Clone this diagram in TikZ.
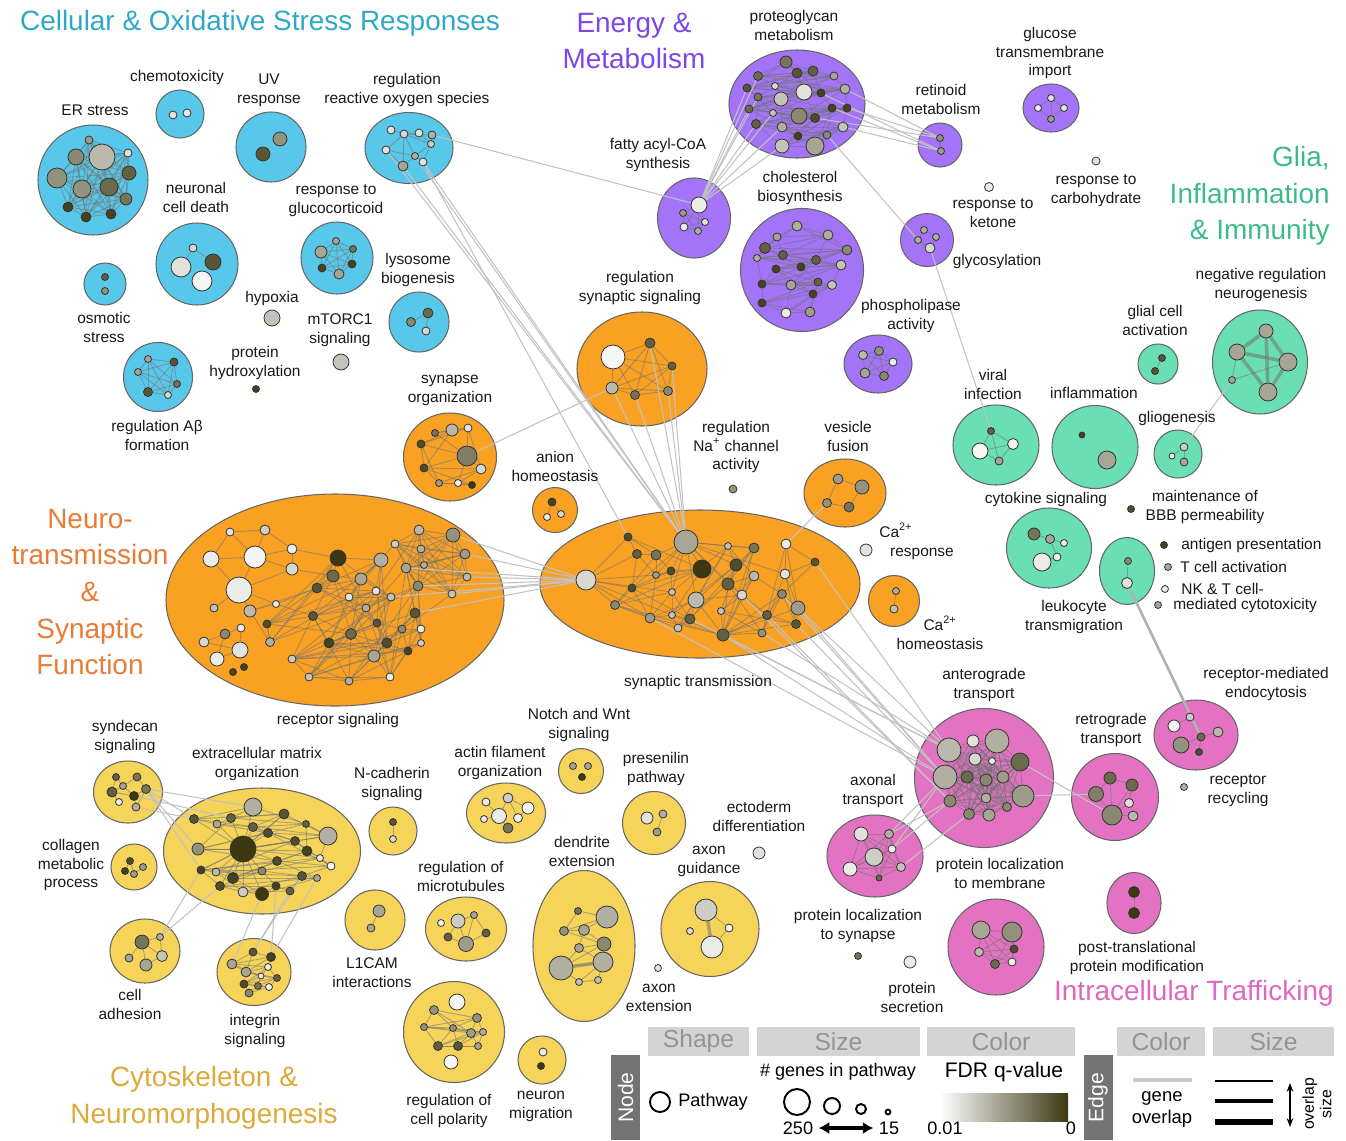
\documentclass[tikz,border=0pt]{standalone}
\usepackage{fontspec}
\setmainfont{Liberation Sans}
\usepackage{xcolor}
\usepackage{tikz}
\usetikzlibrary{shapes.geometric}
\usetikzlibrary{arrows.meta}
\usetikzlibrary{positioning}

\definecolor{cyanC}{HTML}{58C8EA}
\definecolor{purpC}{HTML}{A374F7}
\definecolor{oranC}{HTML}{F9A123}
\definecolor{grnC}{HTML}{69DFB3}
\definecolor{pinkC}{HTML}{E372C2}
\definecolor{yelC}{HTML}{F6D359}
\definecolor{cyanT}{HTML}{2FA8C8}
\definecolor{purpT}{HTML}{7D46E6}
\definecolor{oranT}{HTML}{E87B36}
\definecolor{grnT}{HTML}{3DBA8A}
\definecolor{pinkT}{HTML}{E067BE}
\definecolor{yelT}{HTML}{DDA93A}
\definecolor{fdr}{HTML}{3B3812}

\newcommand{\lblsize}{\fontsize{8.8}{10.8}\selectfont}
\newcommand{\ttlsize}{\fontsize{15.9}{20.9}\selectfont}
\newcommand{\legsize}{\fontsize{10.3}{12.5}\selectfont}
\newcommand{\hdrsize}{\fontsize{14}{16}\selectfont}

\pgfdeclarelayer{back}
\pgfdeclarelayer{mid}
\pgfsetlayers{back,mid,main}

\tikzstyle{lbl}=[align=center, inner sep=0pt, font=\lblsize, text=black!90]
\tikzstyle{ttl}=[align=center, inner sep=0pt, font=\ttlsize]
\tikzstyle{link}=[draw=black!24, line width=0.6pt]
\tikzstyle{inlink}=[draw=black!55, opacity=0.55, line width=0.5pt]
\tikzstyle{thkin}=[draw=black!55, opacity=0.55, line width=2pt]
\tikzstyle{hdr}=[fill=black!17, text=black!42, font=\hdrsize, inner sep=0pt, minimum height=29*0.02cm]
\tikzstyle{side}=[fill=black!55, text=white, font=\fontsize{12}{14}\selectfont, inner sep=0pt, rotate=90, minimum width=85*0.02cm, minimum height=29*0.02cm]
\tikzstyle{leg}=[inner sep=0pt, font=\legsize, align=center]
\tikzset{
  clu/.style={circle, draw=black!60, line width=0.6pt, inner sep=0pt, minimum size=#1*0.02cm},
  elu/.style 2 args={ellipse, draw=black!60, line width=0.6pt, inner sep=0pt, minimum width=#1*0.02cm, minimum height=#2*0.02cm},
  gn/.style={circle, draw=black!80, line width=0.45pt, inner sep=0pt, minimum size=#1*0.04cm},
}

% gene nodes of one pathway cluster: x/y/radius/shade
\newcommand{\genelist}[2]{\foreach \gx/\gy/\gr/\gf [count=\gi] in {#2}{\node[gn=\gr, fill=fdr!\gf!white] (#1\gi) at (\gx,\gy) {};}}
\newcommand{\inlinks}[2]{\foreach \la/\lb in {#2}{\draw[inlink] (#1\la) -- (#1\lb);}}
\newcommand{\inchain}[4]{\foreach \la in {#2,...,#3}{\foreach \lk in {#4}{\pgfmathtruncatemacro{\lb}{\la+\lk}\ifnum\lb>#3\relax\else\draw[inlink] (#1\la) -- (#1\lb);\fi}}}
\newcommand{\inmesh}[2]{\inchain{#1}{1}{#2}{1,...,#2}}
\newcommand{\crosslinks}[1]{\foreach \la/\lb in {#1}{\draw[link] (\la) -- (\lb);}}

\begin{document}
\begin{tikzpicture}[x=0.02cm, y=-0.02cm]
\useasboundingbox (0,0) rectangle (1346,1140);

% pathway clusters
\begin{pgfonlayer}{back}
\node[clu=110, fill=cyanC] (erC) at (93,180) {};
\node[clu=48, fill=cyanC] (chemoC) at (180,114) {};
\node[clu=70, fill=cyanC] (uvC) at (271,147) {};
\node[elu={88}{71}, fill=cyanC] (rosC) at (409,148) {};
\node[clu=82, fill=cyanC] (ncdC) at (197,264) {};
\node[clu=72, fill=cyanC] (gcC) at (337,258) {};
\node[clu=42, fill=cyanC] (osmC) at (105,284) {};
\node[clu=60, fill=cyanC] (lysC) at (419,322) {};
\node[clu=69, fill=cyanC] (abC) at (158,377) {};

\node[elu={136}{108}, fill=purpC] (pgC) at (797,104) {};
\node[clu=44, fill=purpC] (retC) at (940,145) {};
\node[elu={56}{48}, fill=purpC] (gluC) at (1051,108) {};
\node[clu=53, fill=purpC] (glyC) at (927,240) {};
\node[elu={73}{80}, fill=purpC] (faC) at (694,218) {};
\node[clu=123, fill=purpC] (cholC) at (802,270) {};
\node[elu={68}{58}, fill=purpC] (plC) at (878,364) {};

\node[elu={130}{114}, fill=oranC] (rssC) at (642,369) {};
\node[elu={93}{88}, fill=oranC] (soC) at (450,457) {};
\node[clu=45, fill=oranC] (anC) at (555,510) {};
\node[elu={82}{68}, fill=oranC] (vfC) at (845,493) {};
\node[clu=51, fill=oranC] (cahC) at (894,601) {};
\node[elu={338}{212}, fill=oranC] (rsC) at (335,600) {};
\node[elu={320}{148}, fill=oranC] (stC) at (700,584) {};

\node[elu={95}{104}, fill=grnC] (nrnC) at (1260,362) {};
\node[clu=40, fill=grnC] (gcaC) at (1158,364) {};
\node[elu={86}{80}, fill=grnC] (viC) at (996,445) {};
\node[elu={86}{83}, fill=grnC] (infC) at (1095,447) {};
\node[clu=48, fill=grnC] (gliC) at (1178,454) {};
\node[elu={85}{80}, fill=grnC] (cytC) at (1049,548) {};
\node[elu={55}{67}, fill=grnC] (leuC) at (1127,571) {};

\node[clu=139, fill=pinkC] (antC) at (984,778) {};
\node[clu=87, fill=pinkC] (rtgC) at (1115,797) {};
\node[elu={84}{70}, fill=pinkC] (rmeC) at (1196,735) {};
\node[elu={96}{82}, fill=pinkC] (axC) at (875,856) {};
\node[clu=96, fill=pinkC] (plmC) at (996,947) {};
\node[elu={54}{61}, fill=pinkC] (ptmC) at (1134,903) {};

\node[elu={69}{62}, fill=yelC] (synC) at (128,792) {};
\node[elu={197}{126}, fill=yelC] (ecmC) at (262,851) {};
\node[clu=46, fill=yelC] (colC) at (134,867) {};
\node[elu={70}{64}, fill=yelC] (caC) at (145,951) {};
\node[elu={74}{67}, fill=yelC] (intC) at (254,972) {};
\node[clu=48, fill=yelC] (ncadC) at (393,831) {};
\node[clu=60, fill=yelC] (l1C) at (375,920) {};
\node[clu=45, fill=yelC] (nwC) at (581,771) {};
\node[elu={79}{60}, fill=yelC] (actC) at (506,813) {};
\node[clu=63, fill=yelC] (preC) at (654,823) {};
\node[elu={81}{64}, fill=yelC] (mtC) at (466,929) {};
\node[elu={102}{151}, fill=yelC] (deC) at (584,946) {};
\node[elu={98}{95}, fill=yelC] (agC) at (710,929) {};
\node[clu=101, fill=yelC] (polC) at (454,1032) {};
\node[clu=48, fill=yelC] (nmC) at (542,1060) {};
\end{pgfonlayer}

% genes
\genelist{er}{89/140/4/50, 102/157/13/35, 76/157/8/60, 128/153/4/15, 57/178/10/55, 82/189/9/55, 109/187/9/75, 129/173/7/80, 126/199/6/70, 68/207/5/95, 86/217/5/95, 111/214/5/95}
\genelist{chemo}{173/115/4/15, 187/113/4/10}
\genelist{uv}{280/139/7/55, 263/154/7/85}
\genelist{ros}{391/130/4/15, 404/134/4/20, 419/133/4/15, 432/135/4/40, 431/144/3.5/25, 386/150/4/15, 415/156/3.5/40, 423/162/4/15, 403/166/5/45}
\genelist{ncd}{193/248/4/20, 181/267/10/15, 213/262/8/85, 202/281/10/5}
\genelist{gc}{321/252/6/45, 336/241/3.5/45, 353/249/3.5/70, 322/268/4/95, 352/264/4/95, 339/274/5/45}
\genelist{osm}{105/277/3.5/80, 105/291/3.5/55}
\genelist{lys}{411/322/4.5/60, 428/313/5/75, 426/331/4/20}
\genelist{hyp}{272/318/8/30}
\genelist{mtor}{341/362/8/30}
\genelist{phx}{256/389/3.5/95}
\genelist{ab}{148/359/3.5/45, 174/362/4/85, 138/372/3.5/45, 177/384/3.5/70, 148/392/4.5/85, 168/395/3.5/20}

\genelist{pg}{786/62/6/70, 758/76/4.5/75, 797/73/5/85, 813/71/5/80, 834/76/4/45, 747/88/4/85, 775/86/3.5/20, 804/92/8/15, 821/93/4/95, 845/89/5/40, 758/97/4/70, 781/99/7/30, 749/109/4/75, 773/113/3.5/30, 799/116/8/60, 815/118/4.5/90, 832/108/4/95, 847/108/4/95, 756/124/4.5/80, 782/127/5/40, 798/136/4/95, 827/135/4/60, 843/127/5/30, 782/146/7/30, 815/146/9/45}
\genelist{ret}{940/138/3.5/55, 941/151/3.5/50}
\genelist{glu}{1051/98/3.5/15, 1038/108/3.5/10, 1064/108/3.5/15, 1051/119/3.5/50}
\genelist{carb}{1096/161/4/15}
\genelist{ket}{989/187/4.5/10}
\genelist{gly}{924/230/3.5/40, 918/240/3.5/40, 936/237/3.5/40, 930/248/5/20}
\genelist{fa}{699/205/8/10, 683/213/3.5/50, 684/227/4/10, 698/231/3.5/40, 705/222/3.5/15}
\genelist{chol}{797/226/5/40, 777/237/4/45, 828/235/5/40, 765/248/5.5/80, 783/255/4.5/80, 847/250/5/60, 757/258/3.5/40, 816/260/4.5/80, 801/267/4/95, 841/265/5/30, 776/269/4/95, 762/284/4/95, 791/285/5/45, 818/282/4/80, 832/285/4.5/30, 813/294/4/95, 762/303/4/95, 786/313/5/10, 810/312/5/50}
\genelist{pl}{863/355/4.5/35, 879/351/4.5/55, 893/362/4/10, 865/373/5/45, 884/376/4.5/60}

\genelist{rss}{613/357/12/5, 650/343/5/80, 672/366/4/80, 612/388/6/35, 635/395/4.5/70, 668/391/4.5/60}
\genelist{so}{435/433/3.5/70, 452/430/6/35, 468/428/4/15, 421/444/4/90, 467/456/10/65, 424/468/4/90, 481/469/5/20, 439/483/3.5/50, 458/483/3.5/5, 472/485/3.5/100}
\genelist{an}{552/502/4/95, 547/517/3.5/10, 561/514/3.5/20}
\genelist{na}{733/489/4/55}
\genelist{vf}{838/479/5/50, 862/487/7/55, 827/503/4.5/55, 849/507/5/70}
\genelist{car}{866/550/6/15}
\genelist{cah}{896/591/3.5/40, 894/609/4/30}
\genelist{rs}{230/532/4/15, 265/530/5/25, 211/559/8/10, 255/557/11/5, 292/549/5/10, 292/569/6/20, 239/590/13/10, 214/608/4/30, 250/611/6/35, 276/604/3.5/10, 241/628/4/10, 225/634/5/60, 204/642/5/20, 240/650/8/15, 217/659/7/10, 233/672/3.5/95, 244/667/3.5/95, 270/642/4.5/40, 267/624/4/90, 338/558/8/100, 333/576/6/75, 317/588/5/85, 361/579/6/45, 381/560/7/40, 349/597/4/15, 376/591/4/15, 391/597/4/30, 313/616/4.5/85, 366/608/4/40, 351/634/5.5/75, 377/623/4/85, 329/643/5/95, 387/643/5/90, 374/656/6/45, 292/659/4/25, 309/677/4/30, 349/681/4/40, 390/677/4/10, 408/651/4/95, 402/629/4/60, 415/613/5/85, 421/629/4/10, 421/643/3.5/25, 418/586/5/60, 406/568/5/45, 395/544/4/25, 419/530/5/35, 421/549/4/40, 424/565/3.5/40, 453/535/7/55, 465/554/5/50, 467/577/4/35, 452/594/4/30}
\genelist{st}{586/580/10/20, 686/542/12/45, 628/537/4/90, 637/554/4.5/80, 656/555/5/70, 656/575/3.5/50, 671/571/4/90, 702/569/9/100, 632/588/4/90, 615/605/4.5/60, 650/618/5/50, 672/592/3.5/30, 672/615/3.5/30, 690/619/5/80, 678/628/4/30, 696/600/8/35, 728/546/3.5/30, 736/565/6/90, 754/548/5/70, 728/584/6/80, 742/595/5/20, 754/576/5/35, 721/611/3.5/30, 723/635/6/80, 762/633/4/55, 767/615/4.5/80, 782/594/4.5/60, 796/624/4.5/85, 798/608/7/50, 785/574/5/15, 786/544/5/10, 815/562/4/85}

\genelist{nrn}{1266/331/7/45, 1237/352/8/45, 1288/362/9/45, 1268/392/9/45, 1232/380/3.5/45}
\genelist{gca}{1162/358/3.5/85, 1155/371/3.5/85}
\genelist{vi}{991/431/3.5/80, 980/451/8/5, 1013/444/5.5/5, 999/461/4/45}
\genelist{inf}{1082/435/3/95, 1107/460/9/45}
\genelist{gli}{1184/447/4/25, 1172/456/3/10, 1184/462/4/45}
\genelist{cyt}{1034/534/6/70, 1050/539/4.5/45, 1064/543/3.5/10, 1042/562/9/10, 1057/557/4/10}
\genelist{bbb}{1131/509/3.5/90}
\genelist{leu}{1128/561/3.5/60, 1127/583/5.5/15}
\genelist{agp}{1164/545/3.5/95}
\genelist{tca}{1168/567/3.5/45}
\genelist{nkt}{1165/589/3.5/10}
\genelist{mcy}{1158/605/3.5/45}

\genelist{ant}{949/750/12/35, 973/741/6/15, 997/741/12/40, 975/759/6/20, 992/761/3.5/10, 1020/762/9/75, 945/777/12/40, 967/777/6/75, 986/780/6/60, 1003/777/6/50, 1023/796/11/50, 950/801/6/60, 986/798/5/40, 969/814/5.5/60, 989/815/6/45, 1007/807/4.5/60}
\genelist{rtg}{1110/778/6/75, 1132/785/6/75, 1096/794/7.5/65, 1129/803/4.5/15, 1112/815/10/60, 1133/816/5/35}
\genelist{rme}{1174/726/6/5, 1190/717/4/25, 1181/745/8/55, 1201/737/4/75, 1218/732/5/35, 1199/752/3.5/90}
\genelist{rrc}{1184/787/3.5/40}
\genelist{ax}{861/834/7/15, 889/834/4.5/40, 874/857/9/25, 892/849/4/5, 850/869/7/10, 901/867/4.5/30, 879/878/3/75}
\genelist{plm}{981/930/9/45, 1012/932/10/55, 979/952/4.5/35, 1014/949/4/90, 995/964/4.5/75, 1012/962/4/5}
\genelist{ptm}{1134/892/5.5/100, 1134/913/5.5/100}
\genelist{pls}{858/956/3.5/70}
\genelist{psc}{910/962/6/10}

\genelist{syn}{116/777/3.5/80, 137/777/4/70, 123/786/3.5/45, 112/792/5/80, 134/796/4.5/100, 146/789/4.5/70, 119/802/3.5/10, 136/807/4/40}
\genelist{ecm}{253/807/9/40, 194/819/4.5/85, 217/824/4/45, 231/818/4.5/80, 284/814/5/85, 253/827/4.5/80, 306/824/3.5/80, 328/836/9/40, 268/833/4.5/90, 198/849/6/55, 243/849/13/100, 295/841/4.5/90, 307/851/5/95, 320/858/3.5/10, 331/866/4/5, 277/861/4.5/90, 201/870/4/95, 216/872/4/35, 233/878/5.5/95, 262/871/4/60, 302/876/4.5/85, 317/878/3.5/45, 220/886/4.5/90, 243/892/5/25, 262/894/6.5/100, 276/886/4/95, 290/891/4/80}
\genelist{col}{130/861/3.5/90, 143/867/3.5/50, 125/871/3.5/95, 134/874/3.5/50}
\genelist{ca}{142/942/7/70, 160/937/3.5/40, 129/958/4/45, 146/965/6/45, 162/956/5.5/30}
\genelist{int}{253/952/4/85, 271/957/4.5/95, 232/964/5/45, 246/972/5/45, 268/967/3.5/10, 261/976/3/10, 277/978/3.5/80, 244/984/4/90, 258/986/3.5/70, 269/987/3.5/5, 249/993/4/60}
\genelist{ncad}{393/822/3.5/85, 393/839/3.5/20}
\genelist{lone}{379/911/6/45, 371/928/4/45}
\genelist{nw}{573/766/3.5/45, 588/766/3.5/45, 582/777/3.5/100}
\genelist{act}{486/802/4/10, 508/798/5/25, 528/808/6/5, 499/816/7.5/10, 518/818/4.5/5, 484/819/3.5/10, 508/828/5/70}
\genelist{pre}{647/818/6/15, 663/814/4/40, 657/832/4/50}
\genelist{ecto}{759/853/6/15}
\genelist{mt}{441/923/3.5/5, 458/921/7/25, 474/915/3.5/45, 448/937/4/80, 466/944/7.5/50, 486/933/4/80}
\genelist{de}{578/911/3.5/70, 607/917/11/40, 564/931/4.5/55, 584/930/5.5/45, 604/944/7/60, 579/948/4.5/45, 561/968/12/40, 603/962/10/40, 579/982/3.5/30, 598/980/3.5/30}
\genelist{ag}{706/910/11/25, 690/931/3.5/20, 729/928/4/5, 712/947/11/10}
\genelist{axe}{658/968/3.5/15}
\genelist{pol}{457/1002/8/5, 434/1010/4.5/55, 477/1018/4.5/55, 424/1027/3.5/55, 453/1028/3.5/55, 471/1033/4.5/50, 483/1032/3.5/40, 438/1046/4.5/80, 458/1046/4.5/85, 478/1046/3.5/45, 451/1062/7/5}
\genelist{nm}{543/1052/4/10, 541/1066/3.5/100}

% gene overlap within and between clusters
\begin{pgfonlayer}{mid}
\inmesh{er}{12}
\inlinks{ros}{1/2, 2/3, 2/4, 2/5, 2/6, 2/7, 2/9, 3/5, 4/5, 5/7, 5/8, 6/7, 7/8, 7/9, 6/9}
\inlinks{ncd}{1/2, 1/3}
\inmesh{gc}{6}
\inlinks{lys}{1/2, 2/3}
\inmesh{ab}{6}
\inchain{pg}{1}{25}{1,2,3,5,8}
\inlinks{ret}{1/2}
\inlinks{glu}{1/2, 1/3, 1/4, 2/4, 3/4}
\inlinks{gly}{1/2, 1/3, 2/4, 3/4}
\inmesh{fa}{5}
\inchain{chol}{1}{19}{1,2,3,5}
\inmesh{pl}{5}
\inmesh{rss}{6}
\inchain{so}{1}{10}{1,2,4}
\inlinks{an}{1/2, 1/3}
\inlinks{vf}{1/2, 1/3, 2/4, 3/4}
\inlinks{cah}{1/2}
\inlinks{rs}{1/2, 1/3, 1/4, 2/4, 2/5, 3/4, 3/7, 4/5, 4/6, 4/7, 5/6, 6/7, 7/8, 7/9, 7/10, 9/10, 11/12, 12/13, 13/14, 12/15, 14/15, 11/14, 9/18, 18/19, 10/22, 10/28, 9/22, 19/30, 23/46, 26/47, 27/44, 45/51, 40/53, 6/21, 5/20}
\inchain{rs}{18}{45}{1,2,4,7,9}
\inchain{rs}{44}{53}{1,2,3,4,5,6,7,8,9}
\inchain{st}{3}{32}{1,2,5}
\inlinks{st}{1/3, 1/4, 1/9, 1/10, 1/11, 1/6, 1/12, 1/13, 2/5, 2/6, 2/7, 2/8, 2/9, 2/12, 2/16, 2/17, 2/18, 2/19, 2/20, 2/21, 2/30, 24/10, 24/11, 24/13, 24/16, 24/20, 24/21, 24/26, 24/27, 24/28}
\foreach \la/\lb in {1/2, 1/3, 1/4, 2/3, 2/4, 3/4}{\draw[thkin] (nrn\la) -- (nrn\lb);}
\inlinks{nrn}{5/2, 5/3}
\inlinks{gca}{1/2}
\inmesh{vi}{4}
\inlinks{gli}{1/2, 1/3}
\inlinks{cyt}{1/2, 2/3, 4/5, 2/5}
\inlinks{leu}{1/2}
\inmesh{ant}{16}
\inlinks{rtg}{1/2, 1/3, 2/4, 3/5, 4/5, 5/6, 2/5, 1/5}
\inlinks{rme}{1/2, 2/4, 3/4, 4/5, 4/6}
\inmesh{ax}{7}
\inmesh{plm}{6}
\inlinks{ptm}{1/2}
\inlinks{syn}{1/3, 2/3, 3/4, 3/5, 4/5, 5/6, 4/7, 5/8, 2/6, 1/4, 6/8}
\inchain{ecm}{1}{27}{1,3,6}
\inlinks{ecm}{11/1, 11/2, 11/3, 11/4, 11/5, 11/6, 11/8, 11/9, 11/10, 11/12, 11/16, 11/17, 11/18, 11/19, 11/20, 11/23, 11/24, 11/25}
\inlinks{col}{1/3, 1/4, 2/4, 3/4}
\inlinks{ca}{1/2, 1/3, 1/4, 2/5, 4/5, 1/5}
\inchain{int}{1}{11}{1,2,3}
\inlinks{ncad}{1/2}
\inlinks{lone}{1/2}
\inlinks{act}{1/4, 2/3, 2/4, 3/5, 2/5, 4/7, 4/6}
\inlinks{pre}{2/3}
\inlinks{mt}{2/3, 2/5, 3/6, 5/6, 4/5, 2/4, 3/5}
\inchain{de}{1}{10}{1,2}
\draw[thkin] (de7) -- (de8);
\inlinks{ag}{1/3, 3/4}
\draw[thkin] (ag1) -- (ag4);
\inchain{pol}{2}{10}{1,2,3,4}

\crosslinks{ros6/st2, ros7/st2, ros8/st2, ros9/st2, ros8/st3, ros4/fa1}
\crosslinks{rss2/st2, rss3/st2, rss4/st2, rss5/st2, rss6/st2, so5/rss4}
\crosslinks{pg6/fa1, pg11/fa1, pg13/fa1, pg19/fa1, pg24/fa1, pg14/fa1, pg20/fa1, pg2/fa1}
\crosslinks{pg10/ret1, pg18/ret1, pg17/ret2, pg23/ret2, pg16/ret1, pg9/ret2, pg22/gly2, gly4/vi1, gli1/nrn5}
\crosslinks{rs44/st1, rs45/st1, rs50/st1, rs51/st1, rs52/st1, rs53/st1, rs41/st1, rs27/st1}
\crosslinks{st24/ant7, st24/ant1, st25/ant1, st28/ant7, st29/ant1, st29/ant7, st26/ant12, st32/ant1, st27/ant7, st11/ant7, st14/ant1, st21/ant12, st31/vf3}
\crosslinks{ant7/ax2, ant12/ax2, ant12/ax4, ant7/ax4, ant14/ax6, ant11/rtg3, ant6/rtg5}
\crosslinks{syn6/ecm1, syn6/ecm2, syn6/ecm10, syn8/ecm2, syn6/ecm17, syn5/ecm4, ca2/ecm17, ca2/ecm23}
\crosslinks{int1/ecm27, int2/ecm26, int1/ecm21, int3/ecm25, int2/ecm22}
\draw[link, draw=black!30, line width=1.5pt] (leu2) -- (rme4);
\end{pgfonlayer}

% group titles
\node[ttl, text=cyanT] (cosT) at (260,23) {Cellular \& Oxidative Stress Responses};
\node[ttl, text=purpT] (emT) at (634,41) {Energy \&\\Metabolism};
\node[ttl, text=grnT, align=right, anchor=east] (giiT) at (1330,196) {Glia,\\Inflammation\\\& Immunity};
\node[ttl, text=oranT] (ntT) at (90,592) {Neuro-\\transmission\\\&\\Synaptic\\Function};
\node[ttl, text=pinkT, anchor=east] (itT) at (1334,993) {Intracellular Trafficking};
\node[ttl, text=yelT] (cnT) at (204,1098) {Cytoskeleton \&\\Neuromorphogenesis};

% pathway labels
\node[lbl] (chemoL) at (177,77) {chemotoxicity};
\node[lbl] (erL) at (95,110) {ER stress};
\node[lbl] (uvL) at (269,90) {UV\\response};
\node[lbl] (rosL) at (407,90) {regulation\\reactive oxygen species};
\node[lbl] (ncdL) at (196,197) {neuronal\\cell death};
\node[lbl] (gcL) at (336,201) {response to\\glucocorticoid};
\node[lbl] (lysL) at (418,270) {lysosome\\biogenesis};
\node[lbl] (osmL) at (104,327) {osmotic\\stress};
\node[lbl] (hypL) at (272,298) {hypoxia};
\node[lbl] (mtorL) at (340,330) {mTORC1\\signaling};
\node[lbl] (phxL) at (255,363) {protein\\hydroxylation};
\node[lbl] (abL) at (157,435) {regulation Aβ\\formation};

\node[lbl] (pgL) at (794,25) {proteoglycan\\metabolism};
\node[lbl] (retL) at (941,99) {retinoid\\metabolism};
\node[lbl] (gluL) at (1050,53) {glucose\\transmembrane\\import};
\node[lbl] (faL) at (658,155) {fatty acyl-CoA\\synthesis};
\node[lbl] (cholL) at (800,188) {cholesterol\\biosynthesis};
\node[lbl] (ketL) at (993,213) {response to\\ketone};
\node[lbl] (carbL) at (1096,191) {response to\\carbohydrate};
\node[lbl] (glyL) at (997,261) {glycosylation};
\node[lbl] (plL) at (911,316) {phospholipase\\activity};

\node[lbl] (rssL) at (640,288) {regulation\\synaptic signaling};
\node[lbl] (soL) at (450,390) {synapse\\organization};
\node[lbl] (anL) at (555,466) {anion\\homeostasis};
\node[lbl] (naL) at (736,447) {regulation\\Na\textsuperscript{+} channel\\activity};
\node[lbl] (vfL) at (848,436) {vesicle\\fusion};
\node[lbl, align=left, anchor=west] (carL) at (879,541) {Ca\textsuperscript{2+}\\\hspace{0.7em}response};
\node[lbl] (cahL) at (940,633) {Ca\textsuperscript{2+}\\homeostasis};
\node[lbl] (rsL) at (338,720) {receptor signaling};
\node[lbl] (stL) at (698,682) {synaptic transmission};

\node[lbl] (nrnL) at (1261,285) {negative regulation\\neurogenesis};
\node[lbl] (gcaL) at (1155,320) {glial cell\\activation};
\node[lbl] (viL) at (993,384) {viral\\infection};
\node[lbl] (infL) at (1094,393) {inflammation};
\node[lbl] (gliL) at (1177,418) {gliogenesis};
\node[lbl] (cytL) at (1046,499) {cytokine signaling};
\node[lbl] (bbbL) at (1205,507) {maintenance of\\BBB permeability};
\node[lbl] (leuL) at (1074,617) {leukocyte\\transmigration};
\node[lbl, anchor=west] (agpL) at (1181,545) {antigen presentation};
\node[lbl, anchor=west] (tcaL) at (1180,567) {T cell activation};
\node[lbl, anchor=west] (nktL) at (1181,589) {NK \& T cell-};
\node[lbl, anchor=west] (mcyL) at (1173,605) {mediated cytotoxicity};

\node[lbl] (antL) at (984,685) {anterograde\\transport};
\node[lbl] (rtgL) at (1111,730) {retrograde\\transport};
\node[lbl] (rmeL) at (1266,684) {receptor-mediated\\endocytosis};
\node[lbl] (rrcL) at (1238,791) {receptor\\recycling};
\node[lbl] (axL) at (873,791) {axonal\\transport};
\node[lbl] (plmL) at (1000,873) {protein localization\\to membrane};
\node[lbl] (plsL) at (858,926) {protein localization\\to synapse};
\node[lbl] (pscL) at (912,997) {protein\\secretion};
\node[lbl] (ptmL) at (1137,958) {post-translational\\protein modification};

\node[lbl] (synL) at (125,737) {syndecan\\signaling};
\node[lbl] (ecmL) at (257,764) {extracellular matrix\\organization};
\node[lbl] (ncadL) at (392,784) {N-cadherin\\signaling};
\node[lbl] (colL) at (71,865) {collagen\\metabolic\\process};
\node[lbl] (caL) at (130,1004) {cell\\adhesion};
\node[lbl] (intL) at (255,1031) {integrin\\signaling};
\node[lbl] (loneL) at (372,973) {L1CAM\\interactions};
\node[lbl] (nwL) at (579,725) {Notch and Wnt\\signaling};
\node[lbl] (actL) at (500,763) {actin filament\\organization};
\node[lbl] (preL) at (656,769) {presenilin\\pathway};
\node[lbl] (ectoL) at (759,816) {ectoderm\\differentiation};
\node[lbl] (mtL) at (461,876) {regulation of\\microtubules};
\node[lbl] (deL) at (582,851) {dendrite\\extension};
\node[lbl] (agL) at (709,861) {axon\\guidance};
\node[lbl] (axeL) at (659,998) {axon\\extension};
\node[lbl] (polL) at (449,1111) {regulation of\\cell polarity};
\node[lbl] (nmL) at (541,1106) {neuron\\migration};

% legend
\node[hdr, minimum width=101*0.02cm] (shapeH) at (698.5,1041.5) {Shape};
\node[hdr, minimum width=163*0.02cm] (sizeH) at (838.5,1041.5) {Size};
\node[hdr, minimum width=148*0.02cm] (colorH) at (1001,1041.5) {Color};
\node[hdr, minimum width=88*0.02cm] (ecolorH) at (1161,1041.5) {Color};
\node[hdr, minimum width=121*0.02cm] (esizeH) at (1273.5,1041.5) {Size};
\node[side] (nodeS) at (625.5,1097.5) {Node};
\node[side] (edgeS) at (1098,1097.5) {Edge};

\node[circle, draw=black, line width=1.1pt, inner sep=0pt, minimum size=20*0.02cm] (pwC) at (660,1102) {};
\node[leg, right=4pt of pwC] (pwL) {Pathway};
\node[leg] (genesL) at (838,1072) {\# genes in pathway};
\node[circle, draw=black, line width=1.1pt, inner sep=0pt, minimum size=26*0.02cm] (szA) at (797,1102) {};
\node[circle, draw=black, line width=1.1pt, inner sep=0pt, minimum size=16*0.02cm] (szB) at (832,1106) {};
\node[circle, draw=black, line width=1.1pt, inner sep=0pt, minimum size=10*0.02cm] (szC) at (861,1109) {};
\node[circle, draw=black, line width=1pt, inner sep=0pt, minimum size=5*0.02cm] (szD) at (888,1112) {};
\node[leg] (n250) at (798,1128) {250};
\node[leg] (n15) at (889,1128) {15};
\draw[{Latex[length=6pt,width=7pt]}-{Latex[length=6pt,width=7pt]}, line width=2pt] ([xshift=3pt]n250.east) -- ([xshift=-3pt]n15.west);
\node[leg, font=\fontsize{12}{14}\selectfont] (fdrL) at (1004,1072) {FDR q-value};
\node[left color=white, right color=fdr, inner sep=0pt, minimum width=128*0.02cm, minimum height=28*0.02cm] (fdrBar) at (1004,1107) {};
\node[leg] (fdrLo) at (945,1128) {0.01};
\node[leg] (fdrHi) at (1071,1128) {0};

\coordinate (glA) at (1133,1080);
\coordinate (glB) at (1192,1080);
\draw[draw=black!20, line width=2.5pt] (glA) -- (glB);
\node[leg, font=\fontsize{10.5}{12.5}\selectfont] (glL) at (1162,1109) {gene\\overlap};
\coordinate (wA1) at (1215,1081);
\coordinate (wB1) at (1273,1081);
\coordinate (wA2) at (1215,1101);
\coordinate (wB2) at (1273,1101);
\coordinate (wA3) at (1215,1122);
\coordinate (wB3) at (1273,1122);
\draw[line width=1pt] (wA1) -- (wB1);
\draw[line width=2.2pt] (wA2) -- (wB2);
\draw[line width=3.6pt] (wA3) -- (wB3);
\coordinate (ovT) at (1290,1083);
\coordinate (ovB) at (1290,1127);
\draw[{Stealth[length=5pt]}-{Stealth[length=5pt]}, line width=0.8pt] (ovT) -- (ovB);
\node[leg, rotate=90, font=\fontsize{9}{10}\selectfont] (ovL) at (1317,1104) {overlap\\size};
\end{tikzpicture}
\end{document}
